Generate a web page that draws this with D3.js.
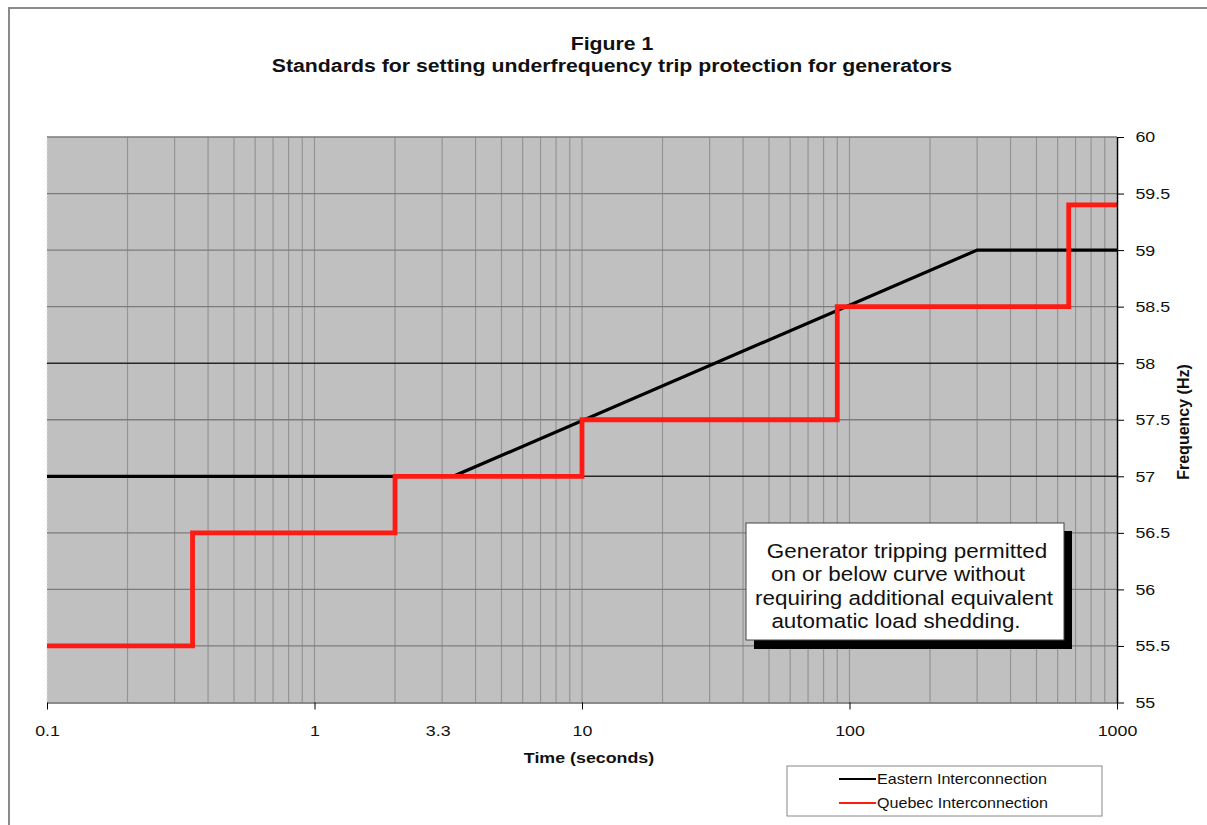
<!DOCTYPE html>
<html>
<head>
    <title>Figure 1 - Underfrequency trip protection</title>
    <script src="https://d3js.org/d3.v7.min.js"></script>
    <style>
        body { margin: 0; background: #fff; }
        text { font-family: "Liberation Sans", Arial, sans-serif; fill: #111; }
        .axis text { font-size: 15.5px; }
    </style>
</head>
<body>
<div id="chart"></div>

<script>
    // data
    var easternTime = [0.1, 3.3, 300, 1000];
    var easternFreq = [57, 57, 59, 59];

    var quebecTime = [0.1, 0.35, 2, 10, 90, 660, 1000];
    var quebecFreq = [55.5, 56.5, 57, 57.5, 58.5, 59.4, 59.4];

    var xTickValues = [0.1, 1, 10, 100, 1000];
    var xTickLabels = ["0.1", "1", "10", "100", "1000"];
    var extraXLabel = { value: 3.3, label: "3.3" };
    var yTickValues = [55, 55.5, 56, 56.5, 57, 57.5, 58, 58.5, 59, 59.5, 60];
    var yTickLabels = ["55", "55.5", "56", "56.5", "57", "57.5", "58", "58.5", "59", "59.5", "60"];
    var darkGridFreq = [57, 58];

    var seriesNames = ["Eastern Interconnection", "Quebec Interconnection"];
    var seriesColors = ["#000000", "#ff1a14"];

    var titleLines = ["Figure 1", "Standards for setting underfrequency trip protection for generators"];
    var noteLines = ["Generator tripping permitted", "on or below curve without",
                     "requiring additional equivalent", "automatic load shedding."];
    var noteShift = [2, -7, -1, -9]; // the lines in the box are not quite centred

    var width = 1207, height = 825;
    var margin = { top: 137, right: 90, bottom: 122.5, left: 47 };
    var innerW = width - margin.left - margin.right;
    var innerH = height - margin.top - margin.bottom;
    var stretch = 1.15; // the original text is a bit wide

    var svg = d3.select("#chart").append("svg")
        .attr("width", width)
        .attr("height", height);

    // little helper: text that is stretched sideways like the original
    function label(parent, x, y, str, size, weight, anchor) {
        return parent.append("text")
            .attr("transform", "translate(" + x + "," + y + ") scale(" + stretch + ",1)")
            .style("font-size", size + "px")
            .style("font-weight", weight || "normal")
            .style("text-anchor", anchor || "start")
            .text(str);
    }

    // outer chart frame
    svg.append("path")
        .attr("d", "M9,826 L9,8 L1208,8")
        .attr("fill", "none")
        .attr("stroke", "#8a8a8a")
        .attr("stroke-width", 2);

    // titles
    titleLines.forEach(function(t, i) {
        label(svg, 612, 50 + i * 22, t, 18.5, "bold", "middle");
    });

    var g = svg.append("g")
        .attr("transform", "translate(" + margin.left + "," + margin.top + ")");

    var x = d3.scaleLog().domain([0.1, 1000]).range([0, innerW]);
    var y = d3.scaleLinear().domain([55, 60]).range([innerH, 0]);

    // plot background
    g.append("rect")
        .attr("width", innerW)
        .attr("height", innerH)
        .attr("fill", "#c0c0c0")
        .attr("stroke", "#dcdcdc")
        .attr("stroke-dasharray", "2,2");

    // vertical gridlines at every 1..9 of each decade
    g.append("g").selectAll("line")
        .data(x.ticks().filter(function(d) { return d > 0.1 && d < 1000; }))
        .enter().append("line")
        .attr("x1", d => x(d)).attr("x2", d => x(d))
        .attr("y1", 0).attr("y2", innerH)
        .attr("stroke", "#949494")
        .attr("stroke-width", 1.2);

    // horizontal gridlines
    g.append("g").selectAll("line")
        .data(yTickValues.filter(d => d > 55))
        .enter().append("line")
        .attr("x1", 0).attr("x2", innerW)
        .attr("y1", d => y(d)).attr("y2", d => y(d))
        .attr("stroke", d => darkGridFreq.indexOf(d) >= 0 ? "#262626" : "#7c7c7c")
        .attr("stroke-width", d => darkGridFreq.indexOf(d) >= 0 ? 1.6 : 1.3);

    // series
    var eastern = easternTime.map((t, i) => ({ t: t, f: easternFreq[i] }));
    var quebec = quebecTime.map((t, i) => ({ t: t, f: quebecFreq[i] }));

    g.append("path")
        .datum(eastern)
        .attr("fill", "none")
        .attr("stroke", seriesColors[0])
        .attr("stroke-width", 3.2)
        .attr("d", d3.line().x(d => x(d.t)).y(d => y(d.f)));

    g.append("path")
        .datum(quebec)
        .attr("fill", "none")
        .attr("stroke", seriesColors[1])
        .attr("stroke-width", 4.8)
        .attr("stroke-linejoin", "miter")
        .attr("d", d3.line().curve(d3.curveStepAfter).x(d => x(d.t)).y(d => y(d.f)));

    // x axis
    var xAxis = g.append("g")
        .attr("class", "axis")
        .attr("transform", "translate(0," + innerH + ")")
        .call(d3.axisBottom(x)
            .tickValues(xTickValues)
            .tickFormat((d, i) => xTickLabels[i])
            .tickSize(7)
            .tickSizeOuter(0)
            .tickPadding(15));
    xAxis.select(".domain").attr("stroke", "#6a6a6a").attr("stroke-width", 1.5);
    xAxis.selectAll(".tick line").attr("stroke", "#000");
    xAxis.selectAll("text").attr("transform", "scale(" + stretch + ",1)");

    // the extra 3.3 label (no tick mark), sits a little left of 3.3 s
    label(g, x(extraXLabel.value) - 15, innerH + 33, extraXLabel.label, 15.5, "normal", "middle");

    // y axis on the right
    var yAxis = g.append("g")
        .attr("class", "axis")
        .attr("transform", "translate(" + innerW + ",0)")
        .call(d3.axisRight(y)
            .tickValues(yTickValues)
            .tickFormat((d, i) => yTickLabels[i])
            .tickSize(7)
            .tickSizeOuter(0)
            .tickPadding(9));
    yAxis.select(".domain").attr("stroke", "#000").attr("stroke-width", 1.5);
    yAxis.selectAll("text").attr("transform", "scale(" + stretch + ",1)");

    // axis titles
    label(svg, 589, 763, "Time (seconds)", 15.5, "bold", "middle");

    svg.append("text")
        .attr("transform", "translate(1189,422) rotate(-90)")
        .style("font-size", "16px")
        .style("font-weight", "bold")
        .style("text-anchor", "middle")
        .text("Frequency (Hz)");

    // note box with shadow
    var note = svg.append("g").attr("transform", "translate(746,523)");
    note.append("rect")
        .attr("x", 8).attr("y", 8)
        .attr("width", 318).attr("height", 118)
        .attr("fill", "#000");
    note.append("rect")
        .attr("width", 318).attr("height", 117)
        .attr("fill", "#fff")
        .attr("stroke", "#444")
        .attr("stroke-width", 1);
    noteLines.forEach(function(t, i) {
        label(note, 159 + noteShift[i], 35 + i * 23.4, t, 19.5, "normal", "middle");
    });

    // legend
    var legend = svg.append("g").attr("transform", "translate(787,766)");
    legend.append("rect")
        .attr("width", 315).attr("height", 50)
        .attr("fill", "#fff")
        .attr("stroke", "#888")
        .attr("stroke-width", 1);
    seriesNames.forEach(function(name, i) {
        legend.append("line")
            .attr("x1", 52).attr("x2", 89)
            .attr("y1", 13 + i * 24).attr("y2", 13 + i * 24)
            .attr("stroke", seriesColors[i])
            .attr("stroke-width", 2);
        label(legend, 90, 18 + i * 24, name, 14, "normal", "start");
    });
</script>
</body>
</html>
